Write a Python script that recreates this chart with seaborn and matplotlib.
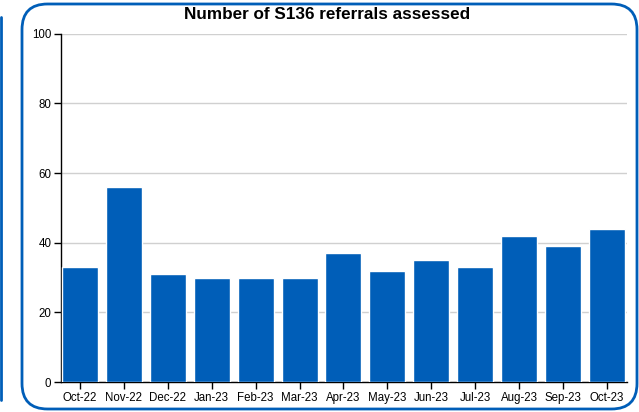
import matplotlib
matplotlib.use("Agg")
import matplotlib.pyplot as plt
import pandas as pd
import seaborn as sns
from matplotlib.patches import FancyBboxPatch
from matplotlib.lines import Line2D

months = ["Oct-22", "Nov-22", "Dec-22", "Jan-23", "Feb-23", "Mar-23", "Apr-23",
          "May-23", "Jun-23", "Jul-23", "Aug-23", "Sep-23", "Oct-23"]
referrals = [33, 56, 31, 30, 30, 30, 37, 32, 35, 33, 42, 39, 44]
y_ticks = [0, 20, 40, 60, 80, 100]

BLUE = "#005EB8"

sns.set_style("white")
plt.rcParams["font.family"] = ["Liberation Sans", "DejaVu Sans"]
plt.rcParams["text.color"] = "black"
plt.rcParams["xtick.color"] = "black"
plt.rcParams["ytick.color"] = "black"

df = pd.DataFrame({"month": months, "referrals": referrals})

fig = plt.figure(figsize=(6.39, 4.12), dpi=100)
ax = fig.add_axes([0.0955, 0.0728, 0.886, 0.845])

sns.barplot(data=df, x="month", y="referrals", color=BLUE, saturation=1,
            width=0.82, ax=ax, zorder=3)
ax.set_ylim(0, 100)
ax.set_xlim(-0.43, len(months) - 0.54)
ax.set_yticks(y_ticks)
ax.yaxis.grid(True, color="#d0d0d0", linewidth=1, zorder=0)
ax.set_axisbelow(True)
ax.set_xlabel("")
ax.set_ylabel("")
for s in ["top", "right"]:
    ax.spines[s].set_visible(False)
for s in ["left", "bottom"]:
    ax.spines[s].set_color("black")
    ax.spines[s].set_linewidth(1)
ax.tick_params(axis="both", direction="out", length=5, width=1, color="black",
               labelcolor="black", labelsize=8.3, pad=2, left=True, bottom=True)
fig.text(0.512, 0.966, "Number of S136 referrals assessed", fontsize=12.3,
         fontweight="bold", ha="center", va="center", color="black")

# panel frame
frame = FancyBboxPatch((22 / 639, 3 / 412), 615 / 639, 405 / 412,
                       boxstyle="round,pad=0,rounding_size=0.04",
                       transform=fig.transFigure, fill=False,
                       edgecolor=BLUE, linewidth=2, mutation_aspect=639 / 412)
fig.patches.append(frame)
fig.lines.append(Line2D([1 / 639, 1 / 639], [12 / 412, 395 / 412],
                        transform=fig.transFigure, color=BLUE, linewidth=2))

fig.savefig("out.png", dpi=100)
